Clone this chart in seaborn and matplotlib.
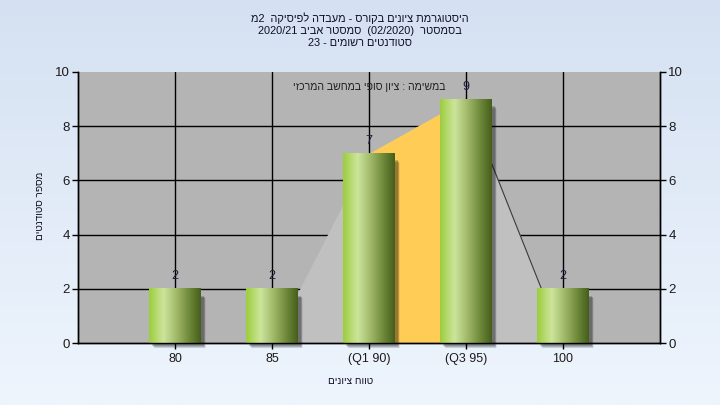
import re
import numpy as np
import matplotlib
matplotlib.use("Agg")
import matplotlib.pyplot as plt
import matplotlib.transforms as mtransforms
from matplotlib.colors import LinearSegmentedColormap
import seaborn as sns

# -----------------------------
# Data
# -----------------------------
categories = ['80', '85', '(Q1 90)', '(Q3 95)', '100']
counts = [2, 2, 7, 9, 2]
curve = [0, 0, 7, 9, 0]          # distribution outline behind the bars
q1_idx, q3_idx = 2, 3

title_lines = [
    "היסטוגרמת ציונים בקורס - מעבדה לפיסיקה  2מ",
    "בסמסטר  (02/2020)  סמסטר אביב 2020/21",
    "סטודנטים רשומים - 23",
]
note = "במשימה : ציון סופי במחשב המרכזי"
xlabel = "טווח ציונים"
ylabel = "מספר סטודנטים"


def rtl(s):
    # logical hebrew -> visual order (keep digit / latin runs as they are)
    toks = re.findall(r'[0-9A-Za-z/.]+|[^0-9A-Za-z/.]', s)
    toks.reverse()
    mirror = {'(': ')', ')': '('}
    return ''.join(mirror.get(t, t) for t in toks)


sns.set_theme(style="white")
plt.rcParams['font.family'] = ['Liberation Sans', 'DejaVu Sans']

fig = plt.figure(figsize=(7.2, 4.05), dpi=100)

# background gradient
bg = fig.add_axes([0, 0, 1, 1], zorder=-10)
bg_cmap = LinearSegmentedColormap.from_list('bg', ['#d5e1f2', '#eef5fd'])
bg.imshow(np.linspace(0, 1, 256).reshape(-1, 1), cmap=bg_cmap, aspect='auto',
          extent=[0, 1, 0, 1])
bg.axis('off')

ax = fig.add_axes([78 / 720, 1 - 343 / 405, (660 - 78) / 720, (343 - 72) / 405])
ax.set_facecolor('#b4b4b4')

x = np.arange(len(categories))

# grid
for v in [2, 4, 6, 8]:
    ax.axhline(v, color='black', lw=1.0, zorder=0.5)
for xi in x:
    ax.axvline(xi, color='black', lw=1.0, zorder=0.5)

# distribution area + quartile band
ax.fill_between(x, curve, color='#c0c0c0', lw=0, zorder=1)
ax.fill_between(x[q1_idx:q3_idx + 1], curve[q1_idx:q3_idx + 1],
                color='#ffcc55', lw=0, zorder=1.2)
ax.plot(x[q3_idx:q3_idx + 2], curve[q3_idx:q3_idx + 2], color='#3a3a3a',
        lw=0.8, zorder=1.3)

sns.barplot(x=categories, y=counts, ax=ax, width=0.53, color='#8fb04a',
            order=categories, zorder=3)

grad_cmap = LinearSegmentedColormap.from_list(
    'bar', [(0, '#9ccd3e'), (0.28, '#cde59c'), (0.55, '#9db565'),
            (0.8, '#6a8536'), (1, '#465e1c')])
grad = np.linspace(0, 1, 128).reshape(1, -1)

for p in ax.patches:
    x0, w, h = p.get_x(), p.get_width(), p.get_height()
    # soft shadow
    for k, a in enumerate([0.18, 0.14, 0.10, 0.06]):
        off = mtransforms.offset_copy(ax.transData, fig=fig,
                                      x=3 + k * 0.8, y=-3 - k * 0.8, units='dots')
        sh = plt.Rectangle((x0, 0), w, h - 0.15, transform=off,
                           color='black', alpha=a, lw=0, zorder=2, clip_on=False)
        ax.add_patch(sh)
    ax.imshow(grad, cmap=grad_cmap, extent=[x0, x0 + w, 0, h], aspect='auto',
              zorder=3, interpolation='bicubic')
    p.set_facecolor('none')
    p.set_edgecolor('none')

for xi, c in zip(x, counts):
    ax.annotate(str(c), (xi, c), xytext=(0, 9), textcoords='offset points',
                ha='center', va='center', fontsize=9, color='#1e2040', zorder=5)

ax.set_xlim(-1, 5)
ax.set_ylim(0, 10)
ax.set_yticks(range(0, 11, 2))
ax.set_xticks(x)
ax.set_xticklabels(categories)
ax.set_xlabel('')
ax.set_ylabel('')
ax.tick_params(axis='both', which='both', direction='out', length=4,
               width=1, color='black', labelcolor='#1c1c1c')
ax.tick_params(axis='y', labelsize=9.5, pad=2)
ax.tick_params(axis='x', labelsize=9, pad=3, bottom=True)

ax2 = ax.twinx()
ax2.set_ylim(0, 10)
ax2.set_yticks(range(0, 11, 2))
ax2.tick_params(axis='y', direction='out', length=4, width=1, color='black',
                labelcolor='#1c1c1c', labelsize=9.5, pad=2, right=True)
ax2.grid(False)

for a in (ax, ax2):
    a.spines['top'].set_visible(False)
    for s in ('left', 'right', 'bottom'):
        a.spines[s].set_color('black')
        a.spines[s].set_linewidth(1.0)

# texts
for i, line in enumerate(title_lines):
    fig.text(0.5, 1 - (18 + i * 12.5) / 405, rtl(line), ha='center', va='center',
             fontsize=7.9, color='#101028')
ax.text(0.501, 0.945, rtl(note), transform=ax.transAxes, ha='center',
        va='center', fontsize=7.6, color='#202020', zorder=6)
fig.text(351 / 720, 1 - 381 / 405, rtl(xlabel), ha='center', va='center',
         fontsize=7.2, color='#101028')
fig.text(40 / 720, 1 - 206 / 405, rtl(ylabel), ha='center', va='center',
         rotation=90, fontsize=7.2, color='#101028')

plt.savefig("out.png", dpi=100)
